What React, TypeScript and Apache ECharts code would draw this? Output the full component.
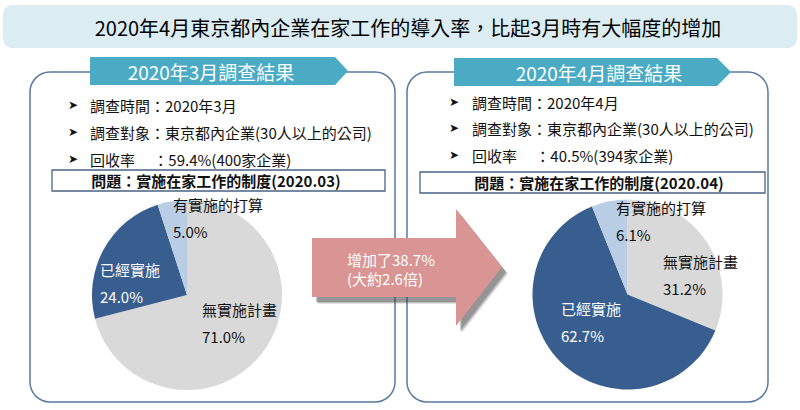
import React, { useEffect, useRef } from "react";
import * as echarts from "echarts";

// ---- data ----
const categories = ["無實施計畫", "已經實施", "有實施的打算"];
const marchValues = [71.0, 24.0, 5.0];
const aprilValues = [31.2, 62.7, 6.1];

const titleText = "2020年4月東京都內企業在家工作的導入率，比起3月時有大幅度的增加";
const marchHeader = "2020年3月調查結果";
const aprilHeader = "2020年4月調查結果";
const marchBullets = ["調查時間：2020年3月", "調查對象：東京都內企業(30人以上的公司)", "回收率　 ：59.4%(400家企業)"];
const aprilBullets = ["調查時間：2020年4月", "調查對象：東京都內企業(30人以上的公司)", "回收率　 ：40.5%(394家企業)"];
const marchQuestion = "問題：實施在家工作的制度(2020.03)";
const aprilQuestion = "問題：實施在家工作的制度(2020.04)";
const arrowLines = ["增加了38.7%", "(大約2.6倍)"];

// ---- styles / layout ----
const FONT = '"Noto Sans CJK TC", "Noto Sans", sans-serif';
const sliceColors = ["#d9d9d9", "#385e8f", "#b9cde5"];
const labelColors = ["#111", "#ffffff", "#111"];
const BORDER = "#5b7aa0";
const TEAL = "#4babc5";
const marchLabelPos = [
  [202, 323],
  [100, 283],
  [173, 218],
];
const aprilLabelPos = [
  [663, 275],
  [561, 322],
  [616, 221],
];
const arrowPts = [[312, 238], [456, 238], [456, 209], [502, 267], [456, 326], [456, 297], [312, 297]];

function makePie(values: number[], center: number[], labelPos: number[][]) {
  return {
    type: "pie",
    center,
    radius: 95,
    startAngle: 90,
    clockwise: true,
    silent: true,
    emphasis: { disabled: true },
    labelLine: { show: false },
    data: categories.map((name, i) => ({
      name,
      value: values[i],
      itemStyle: { color: sliceColors[i], borderWidth: 0 },
      label: { color: labelColors[i] },
    })),
    label: {
      show: true,
      position: "inside",
      fontFamily: FONT,
      fontSize: 15,
      lineHeight: 26.5,
      formatter: (p: any) => `${p.name}\n${Number(p.value).toFixed(1)}%`,
    },
    labelLayout: (params: any) => {
      const pos = labelPos[params.dataIndex];
      return { x: pos[0], y: pos[1], align: "left", verticalAlign: "middle" };
    },
  };
}

function bulletGroup(lines: string[], bx: number, tx: number, ys: number[]) {
  const els: any[] = [];
  lines.forEach((t, i) => {
    els.push({
      type: "text",
      x: bx,
      y: ys[i],
      style: { text: "➤", font: '12px "DejaVu Sans"', fill: "#111", align: "left", verticalAlign: "middle" },
    });
    els.push({
      type: "text",
      x: tx,
      y: ys[i],
      style: { text: t, font: `15px ${FONT}`, fill: "#111", align: "left", verticalAlign: "middle" },
    });
  });
  return els;
}

export default function App() {
  const ref = useRef<HTMLDivElement>(null);
  useEffect(() => {
    if (!ref.current) return;
    const chart = echarts.init(ref.current, undefined, { renderer: "svg" });
    const shadowLayers = [
      { dx: 6, dy: 7, o: 0.15 },
      { dx: 5, dy: 6, o: 0.25 },
      { dx: 4, dy: 5, o: 0.3 },
    ].map((l) => ({
      type: "polygon",
      z: 9,
      x: l.dx,
      y: l.dy,
      shape: { points: arrowPts },
      style: { fill: "#404040", opacity: l.o },
    }));
    const graphics: any[] = [
      // title banner
      { type: "rect", shape: { x: 3, y: 5, width: 794, height: 43, r: 9 }, style: { fill: "#dbedf2" } },
      {
        type: "text",
        x: 408,
        y: 27,
        style: { text: titleText, font: `20px ${FONT}`, fill: "#000", align: "center", verticalAlign: "middle" },
      },
      // panels
      { type: "rect", shape: { x: 30, y: 72, width: 365, height: 330, r: 20 }, style: { fill: "none", stroke: BORDER, lineWidth: 1.5 } },
      { type: "rect", shape: { x: 407, y: 72, width: 361, height: 330, r: 20 }, style: { fill: "none", stroke: BORDER, lineWidth: 1.5 } },
      // tabs
      {
        type: "polygon",
        shape: { points: [[90, 57], [335, 57], [348, 71], [335, 85], [90, 85]] },
        style: { fill: TEAL },
      },
      {
        type: "polygon",
        shape: { points: [[454, 58], [717, 58], [731, 72], [717, 86], [454, 86]] },
        style: { fill: TEAL },
      },
      {
        type: "text",
        x: 211,
        y: 71,
        style: { text: marchHeader, font: `19px ${FONT}`, fill: "#fff", align: "center", verticalAlign: "middle" },
      },
      {
        type: "text",
        x: 599,
        y: 72,
        style: { text: aprilHeader, font: `19px ${FONT}`, fill: "#fff", align: "center", verticalAlign: "middle" },
      },
      ...bulletGroup(marchBullets, 68, 90, [105, 132, 159]),
      ...bulletGroup(aprilBullets, 449, 472, [102, 128, 155]),
      // question boxes
      { type: "rect", shape: { x: 52, y: 170, width: 333, height: 21 }, style: { fill: "#fff", stroke: "#4a6384", lineWidth: 1.3 } },
      {
        type: "text",
        x: 216,
        y: 180.5,
        style: { text: marchQuestion, font: `bold 15px ${FONT}`, fill: "#111", align: "center", verticalAlign: "middle" },
      },
      { type: "rect", shape: { x: 420, y: 172, width: 345, height: 21 }, style: { fill: "#fff", stroke: "#4a6384", lineWidth: 1.3 } },
      {
        type: "text",
        x: 599,
        y: 182.5,
        style: { text: aprilQuestion, font: `bold 15px ${FONT}`, fill: "#111", align: "center", verticalAlign: "middle" },
      },
      // arrow shadow + arrow
      ...shadowLayers,
      {
        type: "polygon",
        z: 10,
        shape: { points: arrowPts },
        style: { fill: "#d99593" },
      },
      {
        type: "text",
        z: 11,
        x: 347,
        y: 259,
        style: { text: arrowLines[0], font: `15px ${FONT}`, fill: "#fff", align: "left", verticalAlign: "middle" },
      },
      {
        type: "text",
        z: 11,
        x: 347,
        y: 278,
        style: { text: arrowLines[1], font: `15px ${FONT}`, fill: "#fff", align: "left", verticalAlign: "middle" },
      },
    ];
    chart.setOption({
      animation: false,
      backgroundColor: "#ffffff",
      graphic: { elements: graphics },
      series: [makePie(marchValues, [187, 295], marchLabelPos), makePie(aprilValues, [627.5, 294.5], aprilLabelPos)],
    });
    return () => chart.dispose();
  }, []);
  return <div ref={ref} style={{ position: "absolute", left: 0, top: 0, width: 800, height: 410 }} />;
}
